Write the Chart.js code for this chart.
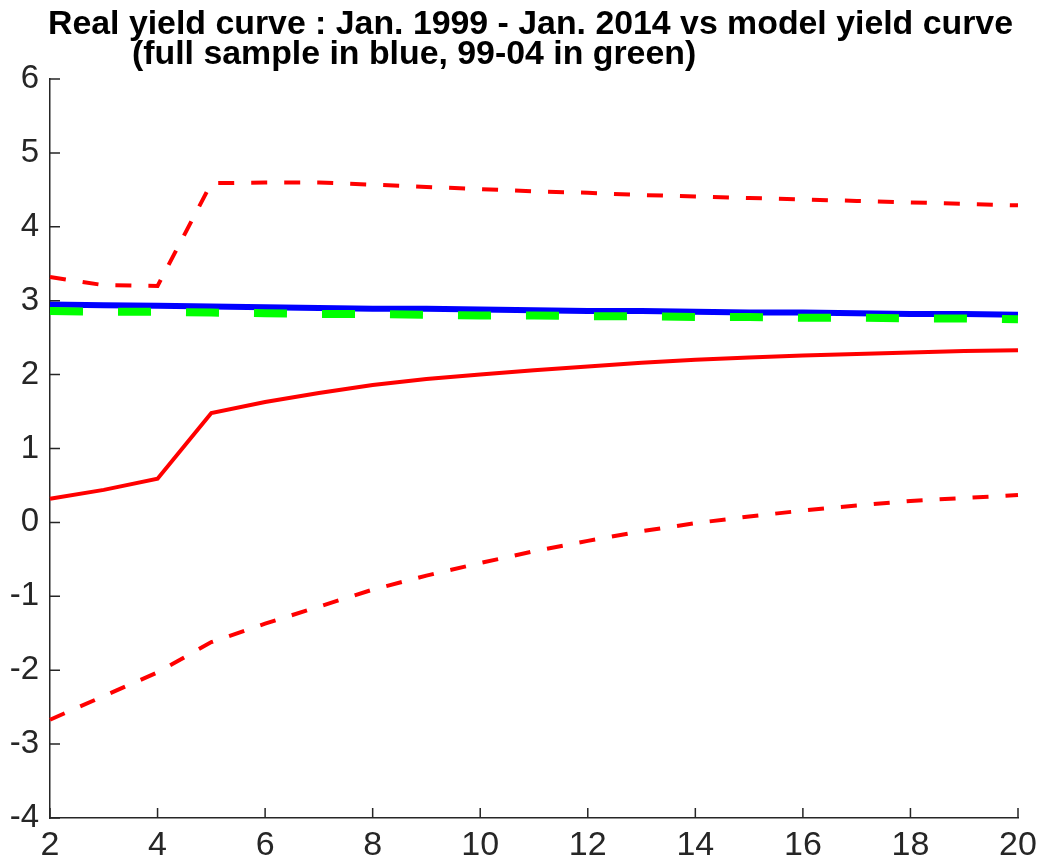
<!DOCTYPE html>
<html>
<head>
<meta charset="utf-8">
<script src="https://cdn.jsdelivr.net/npm/chart.js@4.4.1/dist/chart.umd.min.js"></script>
<style>
  body { margin: 0; background: #fff; }
  canvas { display: block; }
</style>
</head>
<body>
<canvas id="yieldChart" width="1039" height="860"></canvas>
<script>
// maturities (years)
const maturities = [2,3,4,5,6,7,8,9,10,11,12,13,14,15,16,17,18,19,20];

// real yield curve, mean and bands
const realMean  = [0.32,0.44,0.59,1.48,1.63,1.75,1.86,1.94,2.00,2.06,2.11,2.16,2.20,2.23,2.26,2.28,2.30,2.32,2.33];
const realUpper = [3.32,3.21,3.20,4.59,4.60,4.60,4.57,4.54,4.51,4.48,4.46,4.43,4.41,4.39,4.37,4.35,4.33,4.31,4.29];
const realLower = [-2.67,-2.35,-2.03,-1.62,-1.37,-1.14,-0.91,-0.72,-0.55,-0.39,-0.25,-0.12,-0.01,0.08,0.16,0.23,0.29,0.33,0.37];

// model curves
const modelFull = [2.95,2.94,2.93,2.92,2.91,2.90,2.89,2.89,2.88,2.87,2.86,2.86,2.85,2.84,2.84,2.83,2.82,2.82,2.81];
const model9904 = [2.86,2.85,2.85,2.84,2.83,2.82,2.82,2.81,2.80,2.80,2.79,2.79,2.78,2.78,2.77,2.77,2.76,2.76,2.75];

const titleLine1 = "Real yield curve : Jan. 1999 - Jan. 2014 vs model yield curve";
const titleLine2 = "(full sample in blue, 99-04 in green)";

const axisColor = "#262626";
const fontFamily = "'Liberation Sans', Arial, Helvetica, sans-serif";

function toPoints(ys) {
  return maturities.map((m, i) => ({ x: m, y: ys[i] }));
}

// matlab style title, second line is not centered
const titlePlugin = {
  id: "matlabTitle",
  afterDraw(chart) {
    const ctx = chart.ctx;
    ctx.save();
    ctx.fillStyle = "#000";
    ctx.textBaseline = "alphabetic";
    ctx.font = "bold 34px " + fontFamily;
    const w1 = ctx.measureText(titleLine1).width;
    const sx = 965 / w1;
    ctx.save();
    ctx.translate(48, 34);
    ctx.scale(sx, 1);
    ctx.fillText(titleLine1, 0, 0);
    ctx.restore();
    ctx.save();
    ctx.translate(132, 64);
    ctx.scale(sx, 1);
    ctx.fillText(titleLine2, 0, 0);
    ctx.restore();
    ctx.restore();
  }
};

// ticks pointing into the plot
const inwardTicks = {
  id: "inwardTicks",
  afterDraw(chart) {
    const ctx = chart.ctx;
    const xs = chart.scales.x;
    const ys = chart.scales.y;
    const area = chart.chartArea;
    ctx.save();
    ctx.strokeStyle = axisColor;
    ctx.lineWidth = 1.5;
    ctx.beginPath();
    xs.ticks.forEach(t => {
      const px = xs.getPixelForValue(t.value);
      ctx.moveTo(px, area.bottom);
      ctx.lineTo(px, area.bottom - 10);
    });
    ys.ticks.forEach(t => {
      const py = ys.getPixelForValue(t.value);
      ctx.moveTo(area.left, py);
      ctx.lineTo(area.left + 10, py);
    });
    ctx.stroke();
    ctx.restore();
  }
};

const canvas = document.querySelector("#yieldChart");

new Chart(canvas, {
  type: "line",
  data: {
    datasets: [
      {
        label: "model 99-04",
        data: toPoints(model9904),
        borderColor: "#00ff00",
        borderWidth: 8,
        borderDash: [33, 35],
        borderCapStyle: "butt",
        order: 0
      },
      {
        label: "model full sample",
        data: toPoints(modelFull),
        borderColor: "#0000ff",
        borderWidth: 6,
        order: 1
      },
      {
        label: "real mean",
        data: toPoints(realMean),
        borderColor: "#ff0000",
        borderWidth: 4,
        order: 2
      },
      {
        label: "real upper",
        data: toPoints(realUpper),
        borderColor: "#ff0000",
        borderWidth: 4,
        borderDash: [16, 17],
        order: 2
      },
      {
        label: "real lower",
        data: toPoints(realLower),
        borderColor: "#ff0000",
        borderWidth: 4,
        borderDash: [16, 17],
        order: 2
      }
    ]
  },
  options: {
    responsive: false,
    animation: false,
    devicePixelRatio: 1,
    elements: {
      point: { radius: 0, hoverRadius: 0 },
      line: { tension: 0, fill: false }
    },
    datasets: { line: { clip: 8 } },
    layout: { padding: { top: 79, right: 21, left: 0, bottom: 0 } },
    plugins: {
      legend: { display: false },
      tooltip: { enabled: false },
      title: { display: false }
    },
    scales: {
      x: {
        type: "linear",
        min: 2,
        max: 20,
        ticks: {
          stepSize: 2,
          padding: 7,
          color: axisColor,
          font: { family: fontFamily, size: 34 },
          maxRotation: 0
        },
        grid: { display: true, drawOnChartArea: false, drawTicks: false },
        border: { display: true, color: axisColor, width: 1.5 },
        afterFit(scale) {
          scale.height = 42;
          scale.paddingLeft = 0;
          scale.paddingRight = 0;
        }
      },
      y: {
        type: "linear",
        min: -4,
        max: 6,
        ticks: {
          stepSize: 1,
          padding: 11,
          color: axisColor,
          font: { family: fontFamily, size: 33 }
        },
        grid: { display: true, drawOnChartArea: false, drawTicks: false },
        border: { display: true, color: axisColor, width: 1.5 },
        afterFit(scale) {
          scale.width = 50;
          scale.paddingTop = 0;
          scale.paddingBottom = 0;
        }
      }
    }
  },
  plugins: [titlePlugin, inwardTicks]
});
</script>
</body>
</html>
